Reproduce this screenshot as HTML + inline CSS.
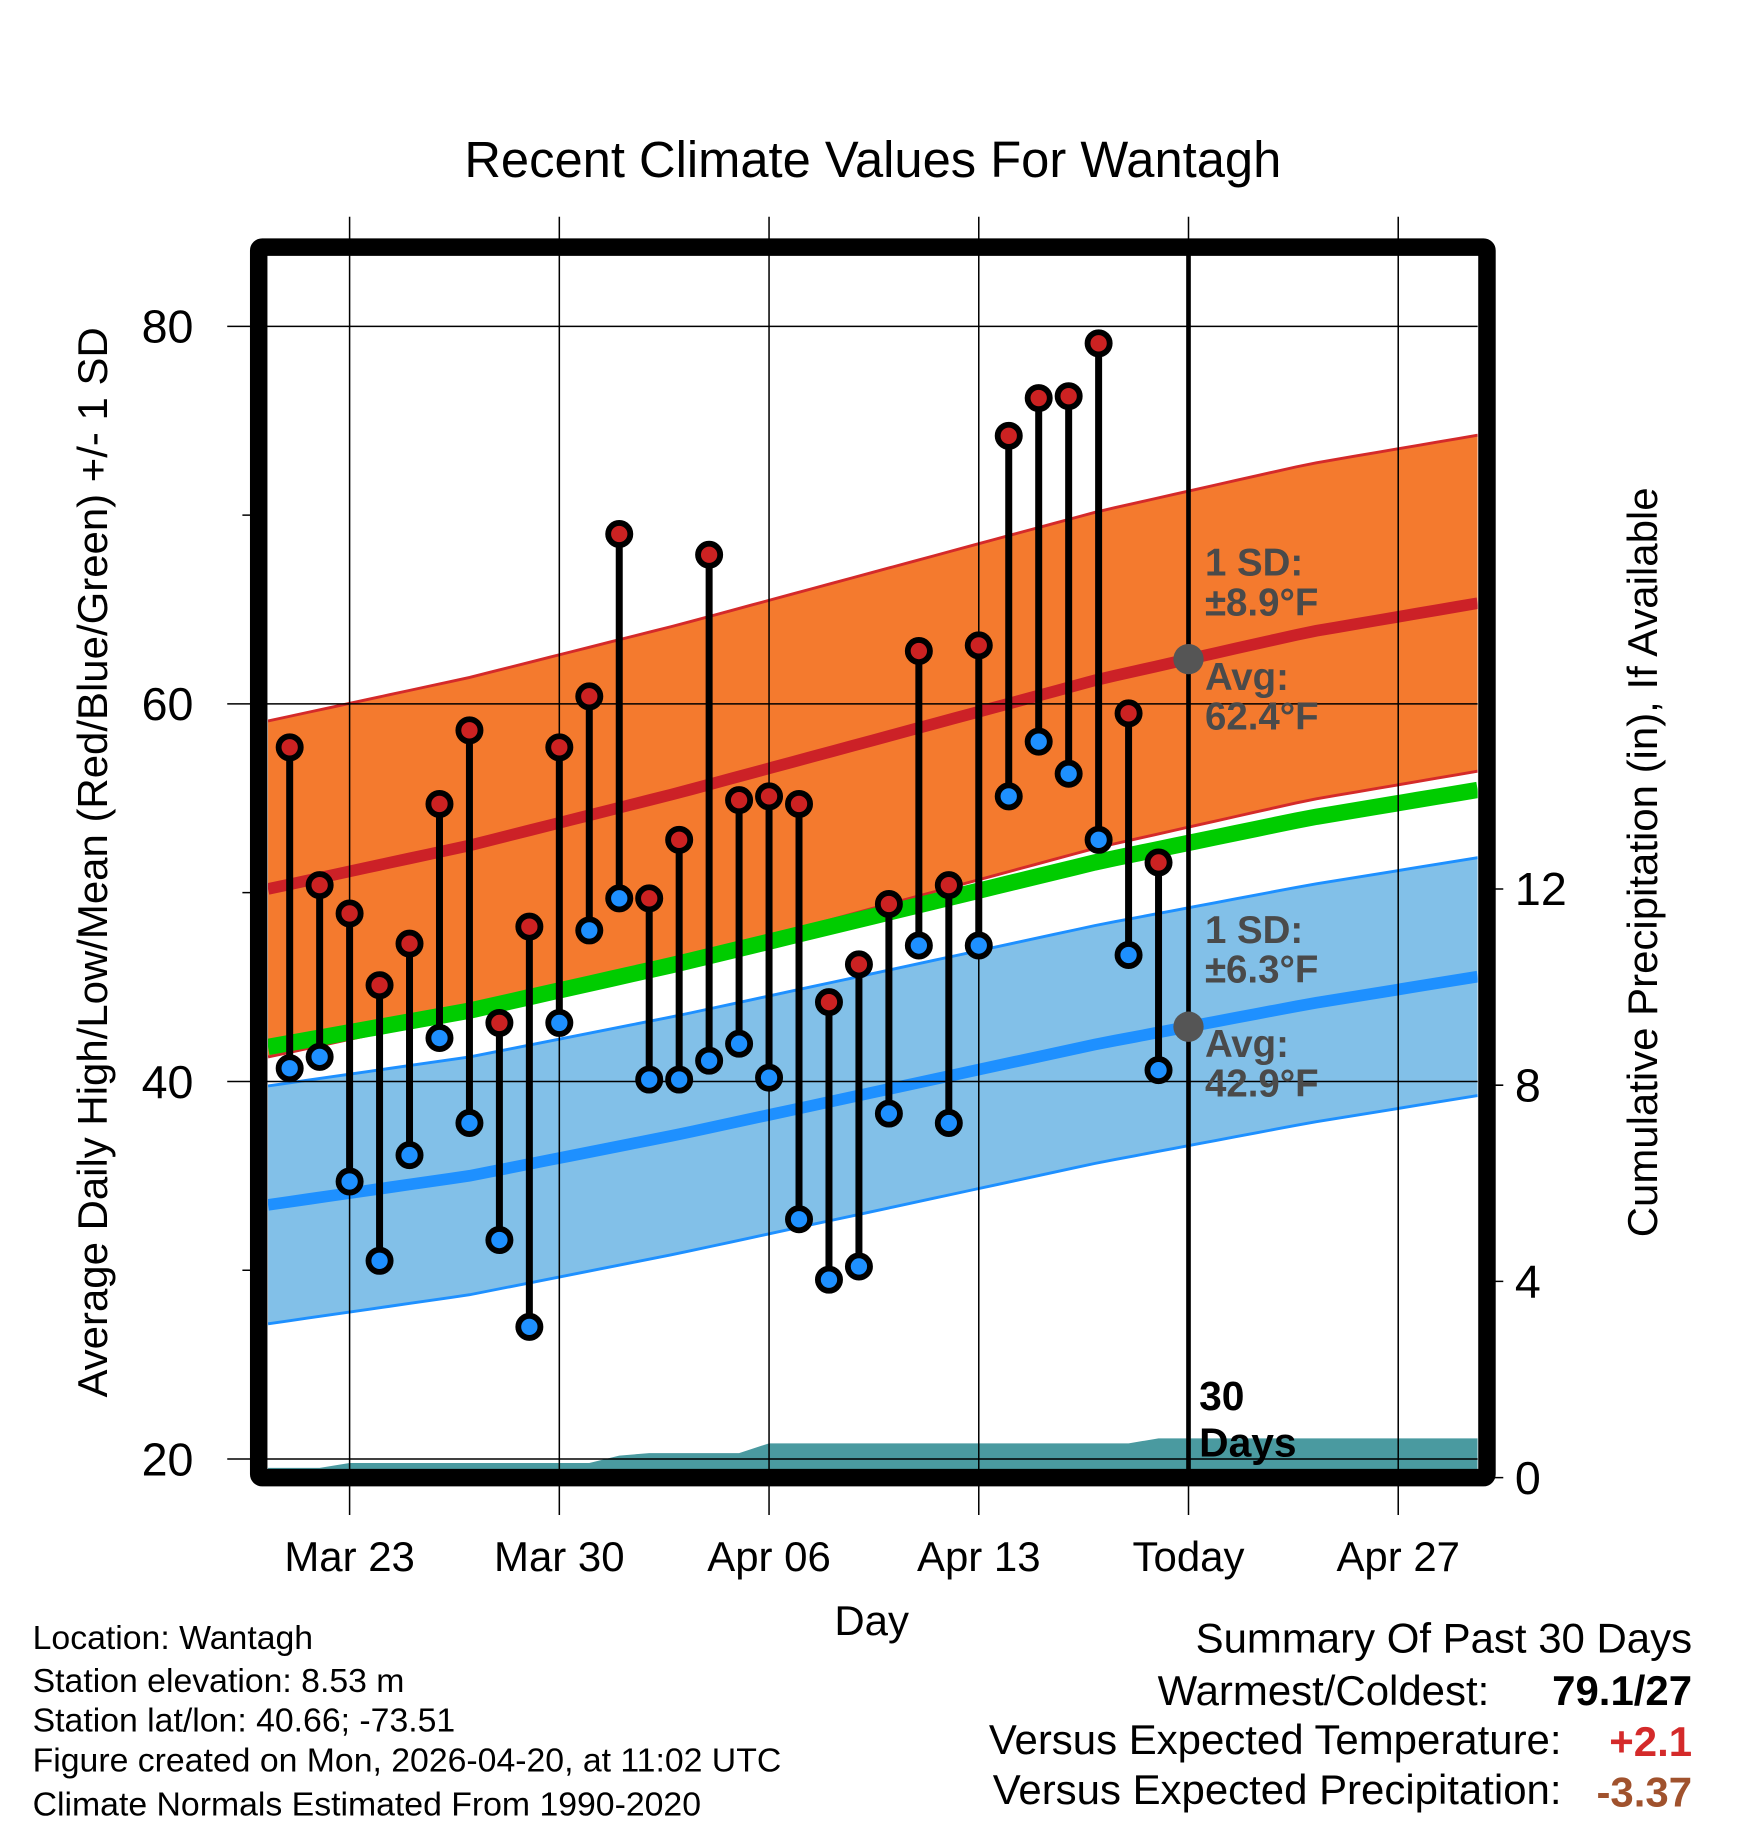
<!DOCTYPE html>
<html><head><meta charset="utf-8"><style>
html,body{margin:0;padding:0;background:#fff}
svg{display:block;font-family:"Liberation Sans",Arial,sans-serif}
</style></head><body>
<svg id="chart" width="1748" height="1828" viewBox="0 0 1500 1568.6" xmlns="http://www.w3.org/2000/svg">
</svg>
<script>
const days = ["Mar21","Mar22","Mar23","Mar24","Mar25","Mar26","Mar27","Mar28","Mar29","Mar30","Mar31","Apr01","Apr02","Apr03","Apr04","Apr05","Apr06","Apr07","Apr08","Apr09","Apr10","Apr11","Apr12","Apr13","Apr14","Apr15","Apr16","Apr17","Apr18","Apr19"];
const highs = [57.7,50.4,48.9,45.1,47.3,54.7,58.6,43.1,48.2,57.7,60.4,69.0,49.7,52.8,67.9,54.9,55.1,54.7,44.2,46.2,49.4,62.8,50.4,63.1,74.2,76.2,76.3,79.1,59.5,51.6];
const lows = [40.7,41.3,34.7,30.5,36.1,42.3,37.8,31.6,27.0,43.1,48.0,49.7,40.1,40.1,41.1,42.0,40.2,32.7,29.5,30.2,38.3,47.2,37.8,47.2,55.1,58.0,56.3,52.8,46.7,40.6];
const precipCum = [0.2,0.2,0.3,0.3,0.3,0.3,0.3,0.3,0.3,0.3,0.3,0.45,0.5,0.5,0.5,0.5,0.7,0.7,0.7,0.7,0.7,0.7,0.7,0.7,0.7,0.7,0.7,0.7,0.7,0.8];
const normDays = [-1,6,13,20,27,34,41];
const normHigh = [50.1,52.5,55.3,58.3,61.3,63.8,65.7];
const normLow = [33.4,35.0,37.2,39.6,42.0,44.1,45.9];
const sdHigh = 8.9, sdLow = 6.3;
const xTickDays = [2,9,16,23,30,37];
const xTickLabels = ["Mar 23","Mar 30","Apr 06","Apr 13","Today","Apr 27"];
const yTicks = [20,40,60,80];
const yMinor = [30,50,70];
const rTicks = [0,4,8,12];

const NS="http://www.w3.org/2000/svg";
const svg=document.getElementById('chart');
function el(tag,attrs,parent){const e=document.createElementNS(NS,tag);for(const k in attrs)e.setAttribute(k,attrs[k]);(parent||svg).appendChild(e);return e;}
// day index 0 = Mar 21
const X=d=>300+(d-2)*25.71;
const Y=t=>280+(80-t)*16.2;
const YR=p=>1268-p*42.1;
const L=230,R=1268,T=220,B=1262;
function interp(arr,d){for(let i=0;i<normDays.length-1;i++){if(d<=normDays[i+1]){const f=(d-normDays[i])/(normDays[i+1]-normDays[i]);return arr[i]+f*(arr[i+1]-arr[i]);}}return arr[arr.length-1];}
const clip=el('clipPath',{id:'pc'});el('rect',{x:L,y:T,width:R-L,height:B-T},clip);
const dStart=(L-300)/25.71+2, dEnd=(R-300)/25.71+2;
const samples=[];for(let i=0;i<=60;i++)samples.push(dStart+(dEnd-dStart)*i/60);
function band(arr,sd,fill,stroke,name){
  let up=samples.map(d=>X(d)+','+Y(interp(arr,d)+sd));
  let dn=samples.slice().reverse().map(d=>X(d)+','+Y(interp(arr,d)-sd));
  const p=el('polygon',{points:up.concat(dn).join(' '),fill:fill,'clip-path':'url(#pc)'});
  
  
  [sd,-sd].forEach(s=>{const l=el('polyline',{points:samples.map(d=>X(d)+','+Y(interp(arr,d)+s)).join(' '),fill:'none',stroke:stroke,'stroke-width':2.5,'clip-path':'url(#pc)'});
  
  });
}
function line(fn,stroke,w,name){const l=el('polyline',{points:samples.map(d=>X(d)+','+Y(fn(d))).join(' '),fill:'none',stroke:stroke,'stroke-width':w,'clip-path':'url(#pc)'});

}
band(normHigh,sdHigh,'#f47a2e','#d42a2a','high');
band(normLow,sdLow,'#82c0e8','#1e90ff','low');
line(d=>interp(normHigh,d),'#cc2127',10,'avg-high-line');
line(d=>interp(normLow,d),'#1e90ff',10,'avg-low-line');
line(d=>(interp(normHigh,d)+interp(normLow,d))/2,'#00cc00',14,'avg-mean-line');
// precip
let pp=[L+','+B,L+','+YR(precipCum[0])];
precipCum.forEach((v,i)=>pp.push(X(i)+','+YR(v)));
pp.push(R+','+YR(precipCum[precipCum.length-1]));pp.push(R+','+B);
const pr=el('polygon',{points:pp.join(' '),fill:'#4a9aa0','clip-path':'url(#pc)'});


// grid
yTicks.forEach(t=>{const g=el('line',{x1:195,x2:R,y1:Y(t),y2:Y(t),stroke:'#000','stroke-width':1.3});


const tx=el('text',{x:166,y:Y(t)+14,'font-size':40,'text-anchor':'end'});tx.textContent=t;

});
yMinor.forEach(t=>{const g=el('line',{x1:208,x2:222,y1:Y(t),y2:Y(t),stroke:'#000','stroke-width':1.3});

});
xTickDays.forEach((d,i)=>{const g=el('line',{x1:X(d),x2:X(d),y1:186,y2:1300,stroke:'#000','stroke-width':1.3});


const tx=el('text',{x:X(d),y:1348,'font-size':36,'text-anchor':'middle'});tx.textContent=xTickLabels[i];

});
rTicks.forEach(p=>{const g=el('line',{x1:1276,x2:1290,y1:YR(p),y2:YR(p),stroke:'#000','stroke-width':1.3});


const tx=el('text',{x:1300,y:YR(p)+14,'font-size':40});tx.textContent=p;

});
// today line
const td=el('line',{x1:X(30),x2:X(30),y1:212,y2:1268,stroke:'#000','stroke-width':4});


// daily stems/points
highs.forEach((h,i)=>{const x=X(i);
 const s=el('line',{x1:x,x2:x,y1:Y(h),y2:Y(lows[i]),stroke:'#000','stroke-width':6});
 
 
 const c1=el('circle',{cx:x,cy:Y(h),r:9.5,fill:'#cc2222',stroke:'#000','stroke-width':5});
 
 
 const c2=el('circle',{cx:x,cy:Y(lows[i]),r:9.5,fill:'#1e90ff',stroke:'#000','stroke-width':5});
 
 
});
// annotations
const todayHigh=interp(normHigh,30), todayLow=interp(normLow,30);
[[todayHigh,'avg-high-marker'],[todayLow,'avg-low-marker']].forEach(([v,n])=>{const c=el('circle',{cx:X(30),cy:Y(v),r:13,fill:'#555'});

});
function txt(s,x,y,size,attrs,name){const t=el('text',Object.assign({x:x,y:y,'font-size':size},attrs||{}));t.textContent=s;

return t;}
const ann={'font-weight':'bold',fill:'#4a4a4a'};
txt('1 SD:',1034,494,33,ann,'high-sd-label');
txt('±'+sdHigh+'°F',1034,528,33,ann,'high-sd-value');
txt('Avg:',1034,592,33,ann,'high-avg-label');
txt(todayHigh.toFixed(1)+'°F',1034,626,33,ann,'high-avg-value');
txt('1 SD:',1034,809,33,ann,'low-sd-label');
txt('±'+sdLow+'°F',1034,843,33,ann,'low-sd-value');
txt('Avg:',1034,907,33,ann,'low-avg-label');
txt(todayLow.toFixed(1)+'°F',1034,941,33,ann,'low-avg-value');
txt('30',1029,1210,35,{'font-weight':'bold'},'days-count-label');
txt('Days',1029,1250,35,{'font-weight':'bold'},'days-label');
// frame
const fr=el('rect',{x:222,y:212,width:1054,height:1056,fill:'none',stroke:'#000','stroke-width':15,rx:3});


// titles
txt('Recent Climate Values For Wantagh',749,152,43.5,{'text-anchor':'middle'},'chart-title');
txt('Average Daily High/Low/Mean (Red/Blue/Green) +/- 1 SD',0,0,36,{'text-anchor':'middle',transform:'translate(92,740) rotate(-90)'},'y-axis-title');
txt('Cumulative Precipitation (in), If Available',0,0,36,{'text-anchor':'middle',transform:'translate(1422,740) rotate(-90)'},'right-axis-title');
txt('Day',748,1403,36,{'text-anchor':'middle'},'x-axis-title');
const info=['Location: Wantagh','Station elevation: 8.53 m','Station lat/lon: 40.66; -73.51','Figure created on Mon, 2026-04-20, at 11:02 UTC','Climate Normals Estimated From 1990-2020'];
const ib=[1415,1452,1486,1520,1558];
info.forEach((s,i)=>txt(s,28,ib[i],29,{},'info-line'));
txt('Summary Of Past 30 Days',1452,1418,36,{'text-anchor':'end'},'summary-title');
txt('Warmest/Coldest:',1278,1463,36,{'text-anchor':'end'},'warmest-coldest-label');
txt('79.1/27',1452,1463,36,{'text-anchor':'end','font-weight':'bold'},'warmest-coldest-value');
txt('Versus Expected Temperature:',1340,1505,36,{'text-anchor':'end'},'temp-anomaly-label');
txt('+2.1',1452,1507,36,{'text-anchor':'end','font-weight':'bold',fill:'#d42a2a'},'temp-anomaly-value');
txt('Versus Expected Precipitation:',1340,1548,36,{'text-anchor':'end'},'precip-anomaly-label');
txt('-3.37',1452,1550,36,{'text-anchor':'end','font-weight':'bold',fill:'#a0522d'},'precip-anomaly-value');
</script>
</body></html>
